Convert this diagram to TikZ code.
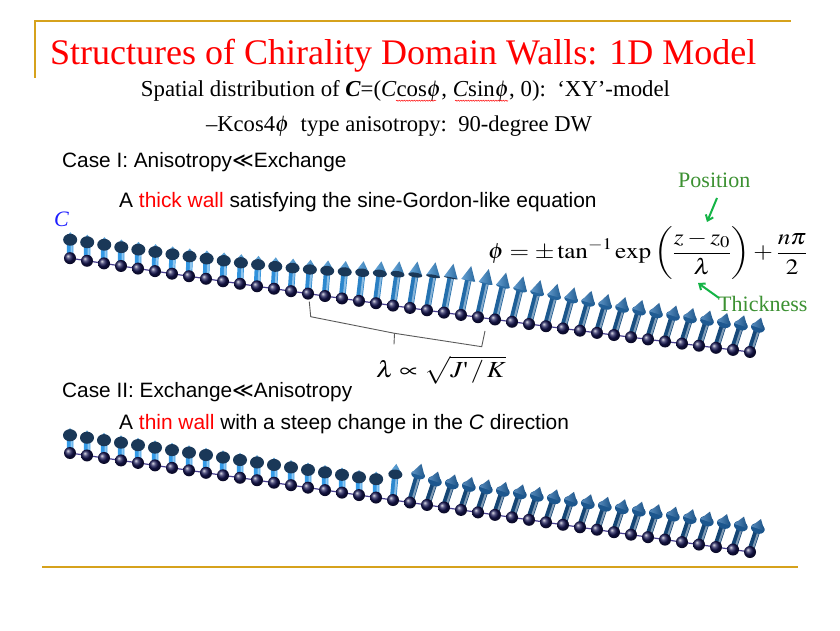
\documentclass[tikz,border=0pt]{standalone}
\usepackage{mathptmx}
\usepackage{fontspec}
\setmainfont{Liberation Serif}
\newfontfamily\arialf{Liberation Sans}
\newfontfamily\djv{DejaVu Sans}
\usetikzlibrary{arrows.meta,decorations.pathmorphing}
\definecolor{gold}{RGB}{214,162,28}
\definecolor{stemA}{RGB}{52,155,232}
\definecolor{stemB}{RGB}{20,68,115}
\definecolor{coneA}{RGB}{78,170,238}
\definecolor{coneB}{RGB}{32,100,165}
\definecolor{diskc}{RGB}{26,56,88}
\definecolor{ballc}{RGB}{22,22,84}
\definecolor{chainc}{RGB}{70,60,140}
\definecolor{lblgreen}{RGB}{60,145,50}
\definecolor{arrgreen}{RGB}{20,180,70}
\definecolor{titlered}{RGB}{255,0,0}
\definecolor{cblue}{RGB}{30,30,255}
\definecolor{bracec}{RGB}{90,90,90}
\newcommand\spinat[3]{%
  \pgfmathsetmacro\spdx{0.22*#3}%
  \pgfmathsetmacro\spdy{0.5+0.16*#3}%
  \pgfmathsetmacro\spdz{-0.866+1.586*#3}%
  \pgfmathsetmacro\spn{sqrt(\spdx*\spdx+\spdy*\spdy+\spdz*\spdz)}%
  \pgfmathsetmacro\sppx{50*\spdx/\spn}%
  \pgfmathsetmacro\sppy{50*\spdy/\spn}%
  \pgfmathsetmacro\spz{\spdz/\spn}%
  \pgfmathsetmacro\sppl{sqrt(\sppx*\sppx+\sppy*\sppy)}%
  \pgfmathsetmacro\sphx{#1+0.71*\sppx}%
  \pgfmathsetmacro\sphy{#2+0.71*\sppy}%
  \pgfmathsetmacro\sptx{#1+\sppx}%
  \pgfmathsetmacro\spty{#2+\sppy}%
  \pgfmathsetmacro\spnx{-7*\sppy/\sppl}%
  \pgfmathsetmacro\spny{7*\sppx/\sppl}%
  \pgfmathsetmacro\spax{\sphx+(\spnx)}%
  \pgfmathsetmacro\spay{\sphy+(\spny)}%
  \pgfmathsetmacro\spbx{\sphx-(\spnx)}%
  \pgfmathsetmacro\spby{\sphy-(\spny)}%
  \pgfmathsetmacro\sphlx{-0.22*\spnx}%
  \pgfmathsetmacro\sphly{-0.22*\spny}%
  \pgfmathsetmacro\spry{max(7*abs(\spz),0.4)}%
  \pgfmathsetmacro\spal{atan2(\sppy,\sppx)+90}%
  \pgfmathtruncatemacro\sppct{100*#3}%
  \colorlet{stemc}{stemB!\sppct!stemA}%
  \colorlet{conec}{coneB!\sppct!coneA}%
  \draw[line width=6.5, stemc] (#1,#2) -- (\sphx,\sphy);%
  \draw[line width=2, stemc!55!white, shift={(\sphlx,\sphly)}] (#1,#2) -- (\sphx,\sphy);%
  \shade[ball color=ballc] (#1,#2) circle (6);%
  \ifdim\spz pt<0pt
    \shade[left color=conec!75!white, right color=conec!80!black] (\spax,\spay) -- (\sptx,\spty) -- (\spbx,\spby) -- cycle;%
    \fill[diskc, shift={(\sphx,\sphy)}, rotate=\spal] (0,0) ellipse [x radius=7, y radius=\spry];%
  \else
    \fill[conec!85!black, shift={(\sphx,\sphy)}, rotate=\spal] (0,0) ellipse [x radius=7, y radius=\spry];%
    \shade[left color=conec!75!white, right color=conec!80!black] (\spax,\spay) -- (\sptx,\spty) -- (\spbx,\spby) -- cycle;%
  \fi
}
\begin{document}
\begin{tikzpicture}[x=1pt,y=1pt]
\useasboundingbox (0,0) rectangle (840,630);
\fill[white] (0,0) rectangle (840,630);
% frame rules
\draw[gold, line width=1.8] (35,552) -- (35,609.3) -- (790.7,609.3);
\draw[gold, line width=1.8] (42.3,63.3) -- (798.3,63.3);
% title
\node[anchor=base west, inner sep=0, text=titlered, font=\fontsize{36}{40}\selectfont] (title) at (50,565) {Structures of Chirality Domain Walls: 1D Model};
\node[anchor=base, inner sep=0, font=\fontsize{22.8}{26}\selectfont] (sub1) at (405.5,533) {Spatial distribution of {\bfseries\itshape C}=(\textit{C}cos$\phi$, \textit{C}sin$\phi$, 0):\ \ ‘XY’-model};
\node[anchor=base, inner sep=0, font=\fontsize{22.6}{26}\selectfont] (sub2) at (399,498) {–Kcos4$\phi$\ \ type anisotropy:\ \ 90-degree DW};
\draw[red, line width=0.5, decorate, decoration={snake, amplitude=0.6, segment length=2.5}] (396,529.3) -- (436,529.3);
\draw[red, line width=0.5, decorate, decoration={snake, amplitude=0.6, segment length=2.5}] (455,529.3) -- (508,529.3);
% case texts
\node[anchor=base west, inner sep=0, font=\arialf\fontsize{20.8}{24}\selectfont] (case1) at (62,462.5) {Case I: Anisotropy{\djv ≪}Exchange};
\node[anchor=base west, inner sep=0, font=\arialf\fontsize{20.9}{24}\selectfont] (thick) at (119,422.5) {A \textcolor{red}{thick wall} satisfying the sine-Gordon-like equation};
\node[anchor=base west, inner sep=0, font=\arialf\fontsize{20.8}{24}\selectfont] (case2) at (62,233) {Case II: Exchange{\djv ≪}Anisotropy};
\node[anchor=base west, inner sep=0, font=\arialf\fontsize{20.9}{24}\selectfont] (thin) at (119,201) {A \textcolor{red}{thin wall} with a steep change in the \textit{C} direction};
\node[anchor=base west, inner sep=0, text=cblue, font=\fontsize{22}{26}\selectfont\itshape] (clab) at (54,403) {C};
% formula
\node[anchor=base west, inner sep=0, font=\fontsize{22}{26}\selectfont] (formula) at (488,371) {\scalebox{1.145}[1]{$\displaystyle \phi=\pm\tan^{-1}\exp\left(\frac{z-z_0}{\lambda}\right)+\frac{n\pi}{2}$}};
\node[anchor=base west, inner sep=0, text=lblgreen, font=\fontsize{22}{26}\selectfont] (pos) at (678,442) {Position};
\node[anchor=base west, inner sep=0, text=lblgreen, font=\fontsize{22}{26}\selectfont] (thk) at (718,319) {Thickness};
\coordinate (posA) at (717,432);
\coordinate (posB) at (707,408);
\coordinate (thA) at (719,332);
\coordinate (thB) at (698,347);
\draw[arrgreen, line width=2, -{Straight Barb[length=5pt,width=8pt]}] (posA) -- (posB);
\draw[arrgreen, line width=2, -{Straight Barb[length=5pt,width=8pt]}] (thA) -- (thB);
% chain 1
\draw[chainc, line width=1.2] plot[domain=70:750, samples=40] (\x, {630-(258+15.5*((\x-69)/100)-0.25*((\x-69)/100)^2)});
\foreach \i in {0,...,40}{
  \pgfmathsetmacro\bx{70+17*\i}
  \pgfmathsetmacro\bt{(\bx-69)/100}
  \pgfmathsetmacro\by{630-(258+15.5*\bt-0.25*\bt*\bt)}
  \pgfmathsetmacro\uu{max(min((\bx-440)/110,9),-9)}
  \pgfmathsetmacro\sval{atan(exp(\uu))/90}
  \spinat{\bx}{\by}{\sval}
}
% brace
\draw[bracec, line width=0.9] (309.3,328.3) -- (310.7,313.3) -- (394.5,296.7) -- (481.7,283.3) -- (485,299);
\draw[bracec, line width=0.9] (394.5,296.7) -- (394,285.7);
\node[anchor=base west, inner sep=0, font=\fontsize{23}{26}\selectfont] (lam) at (376,253) {\scalebox{1.14}[1]{$\lambda\propto\sqrt{J\mbox{\textquotesingle}\,/\,K}$}};
% chain 2
\draw[chainc, line width=1.2] (70,177) -- (750,78);
\foreach \i in {0,...,40}{
  \pgfmathsetmacro\bx{70+17*\i}
  \pgfmathsetmacro\by{630-(453+0.1456*(\bx-70))}
  \pgfmathsetmacro\uu{max(min((\bx-400)/7,9),-9)}
  \pgfmathsetmacro\sval{atan(exp(\uu))/90}
  \spinat{\bx}{\by}{\sval}
}
\end{tikzpicture}
\end{document}
